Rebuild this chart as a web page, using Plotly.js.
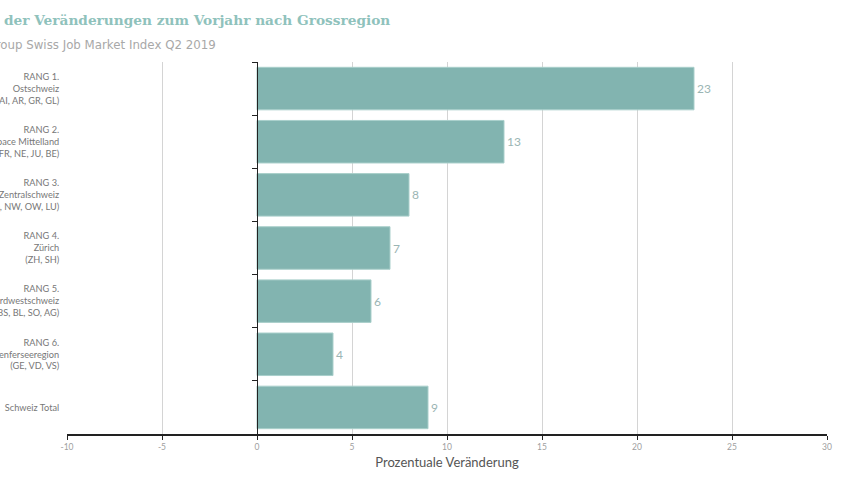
<!DOCTYPE html>
<html><head><meta charset="utf-8">
<script src="https://cdn.plot.ly/plotly-3.0.1.min.js"></script>
<style>body{margin:0;background:#fff}#c{width:848px;height:477px}</style>
</head><body><div id="c"></div>
<script>
const categories = [
  "RANG 1.<br>Ostschweiz<br>(SG, TG, AI, AR, GR, GL)",
  "RANG 2.<br>Espace Mittelland<br>(FR, NE, JU, BE)",
  "RANG 3.<br>Zentralschweiz<br>(UR, SZ, ZG, NW, OW, LU)",
  "RANG 4.<br>Zürich<br>(ZH, SH)",
  "RANG 5.<br>Nordwestschweiz<br>(BS, BL, SO, AG)",
  "RANG 6.<br>Genferseeregion<br>(GE, VD, VS)",
  "Schweiz Total"
];
const values = [23, 13, 8, 7, 6, 4, 9];
const xTicks = [-10, -5, 0, 5, 10, 15, 20, 25, 30];
const titleText = "Rangliste der Veränderungen zum Vorjahr nach Grossregion";
const subtitleText = "Adecco Group Swiss Job Market Index Q2 2019";
const xTitle = "Prozentuale Veränderung";

const pos = categories.map((_, i) => i);
const bounds = categories.map((_, i) => i - 0.5).concat([categories.length - 0.5]);

const data = [
  {
    type: 'bar', orientation: 'h', x: values, y: pos,
    marker: {color: '#82b4b0', line: {color: '#a9cfcb', width: 1}},
    text: values.map(String), textposition: 'outside', cliponaxis: false,
    textfont: {family: 'Lato', size: 12, color: '#9bb5b4'},
    hoverinfo: 'none'
  },
  {
    type: 'scatter', x: [0, 0], y: [bounds[0], bounds[bounds.length-1]],
    yaxis: 'y2', mode: 'lines', line: {color: 'rgba(0,0,0,0)'}, hoverinfo: 'none', showlegend: false
  }
];

const layout = {
  width: 848, height: 477,
  margin: {l: 67, r: 21, t: 62, b: 43},
  paper_bgcolor: '#fff', plot_bgcolor: '#fff',
  showlegend: false,
  bargap: 0.2,
  font: {family: 'Lato', color: '#888'},
  xaxis: {
    range: [-10, 30], tickvals: xTicks, ticktext: xTicks.map(String),
    showgrid: true, gridcolor: '#d4d4d4', gridwidth: 1, zeroline: false,
    showline: true, linecolor: '#222', linewidth: 1.5,
    ticks: 'outside', ticklen: 4, tickcolor: '#222',
    tickfont: {family: 'Lato', size: 8.5, color: '#a0a0a0'},
    title: {text: xTitle, font: {family: 'Lato', size: 13, color: '#555'}, standoff: 7},
    fixedrange: true
  },
  yaxis: {
    range: [categories.length - 0.5, -0.5],
    tickvals: pos, ticktext: categories,
    showgrid: false, zeroline: false, showline: false,
    ticks: 'outside', ticklen: 5, tickcolor: 'rgba(0,0,0,0)',
    tickfont: {family: 'Lato', size: 9.2, color: '#777'},
    automargin: false, fixedrange: true
  },
  yaxis2: {
    overlaying: 'y', matches: 'y', anchor: 'free', position: 0.25, side: 'left',
    tickvals: bounds, showticklabels: false, showgrid: false, zeroline: false,
    showline: true, linecolor: '#222', linewidth: 1,
    ticks: 'outside', ticklen: 5, tickcolor: '#222',
    automargin: false, fixedrange: true
  },
  annotations: [
    {text: titleText, xref: 'paper', yref: 'paper', x: (392-67)/760, xanchor: 'right',
     y: 1, yshift: 42, yanchor: 'middle', showarrow: false,
     font: {family: 'DejaVu Serif', size: 13.7, weight: 'bold', color: '#8fc2bc'}},
    {text: subtitleText, xref: 'paper', yref: 'paper', x: (218-67)/760, xanchor: 'right',
     y: 1, yshift: 17, yanchor: 'middle', showarrow: false,
     font: {family: 'DejaVu Sans', size: 11.8, color: '#a8a8a8'}}
  ]
};

Plotly.newPlot('c', data, layout, {displayModeBar: false, staticPlot: true});
</script></body></html>
